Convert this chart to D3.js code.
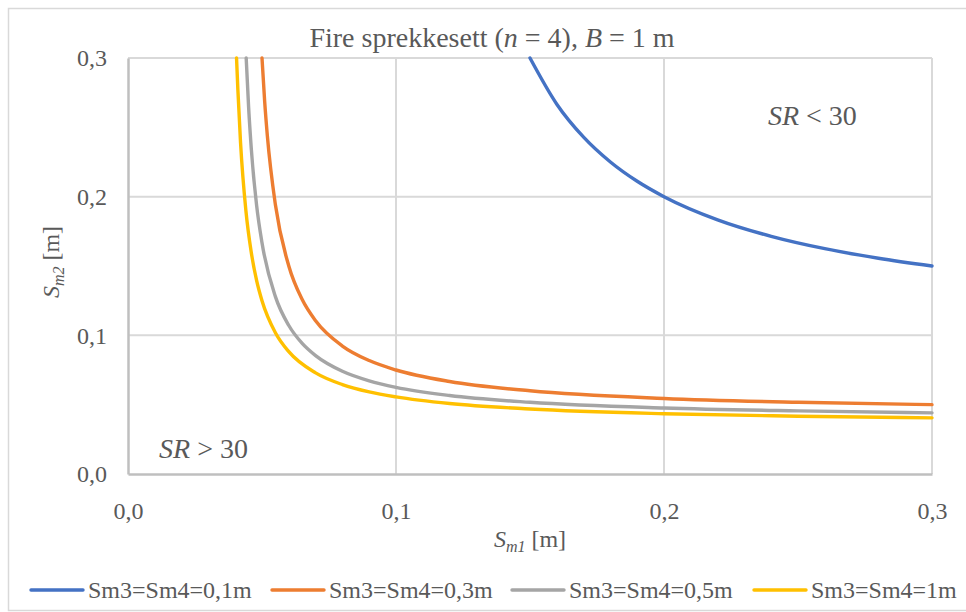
<!DOCTYPE html>
<html>
<head>
<meta charset="utf-8">
<script src="https://cdn.jsdelivr.net/npm/d3@7"></script>
<style>
  html, body { margin: 0; padding: 0; background: #fff; }
  svg { display: block; }
  svg text { font-family: "Liberation Serif", Tinos, "Times New Roman", Times, "DejaVu Serif", serif !important; fill: #595959; }
</style>
</head>
<body>
<svg id="chart" width="966" height="612"></svg>
<script>
// Sm1 / Sm2 combinations where SR = 30, one curve per Sm3 = Sm4 value
const seriesNames = ["Sm3=Sm4=0,1m", "Sm3=Sm4=0,3m", "Sm3=Sm4=0,5m", "Sm3=Sm4=1m"];
const seriesColors = ["#4472C4", "#ED7D31", "#A5A5A5", "#FFC000"];

const sm1_01 = [0.15, 0.16, 0.17, 0.18, 0.19, 0.20, 0.22, 0.24, 0.26, 0.28, 0.30];
const sm2_01 = [0.300, 0.2667, 0.2429, 0.225, 0.2111, 0.200, 0.1833, 0.1714, 0.1625, 0.1556, 0.150];

const sm1_03 = [0.050, 0.051, 0.052, 0.055, 0.060, 0.065, 0.070, 0.080, 0.090, 0.10, 0.12, 0.15, 0.20, 0.25, 0.30];
const sm2_03 = [0.300, 0.2685, 0.2438, 0.1941, 0.150, 0.1258, 0.1105, 0.0923, 0.0818, 0.075, 0.0667, 0.060, 0.0545, 0.0517, 0.050];

const sm1_05 = [0.0441, 0.045, 0.046, 0.048, 0.050, 0.055, 0.060, 0.065, 0.070, 0.080, 0.090, 0.10, 0.12, 0.15, 0.20, 0.25, 0.30];
const sm2_05 = [0.300, 0.2647, 0.2347, 0.1935, 0.1667, 0.1279, 0.1071, 0.0942, 0.0854, 0.0741, 0.0672, 0.0625, 0.0566, 0.0517, 0.0476, 0.0455, 0.0441];

const sm1_1 = [0.0405, 0.041, 0.042, 0.044, 0.046, 0.048, 0.050, 0.055, 0.060, 0.070, 0.080, 0.090, 0.10, 0.12, 0.15, 0.20, 0.25, 0.30];
const sm2_1 = [0.300, 0.277, 0.2387, 0.1897, 0.1597, 0.1395, 0.125, 0.1019, 0.0882, 0.0729, 0.0645, 0.0592, 0.0556, 0.0508, 0.0469, 0.0435, 0.0417, 0.0405];

const xTicks = [0.0, 0.1, 0.2, 0.3];
const yTicks = [0.0, 0.1, 0.2, 0.3];
const tickLabels = ["0,0", "0,1", "0,2", "0,3"];

const seriesX = [sm1_01, sm1_03, sm1_05, sm1_1];
const seriesY = [sm2_01, sm2_03, sm2_05, sm2_1];

const svg = d3.select("#chart");
const plot = { left: 128, right: 932, top: 58, bottom: 474 };

const x = d3.scaleLinear().domain([0, 0.3]).range([plot.left, plot.right]);
const y = d3.scaleLinear().domain([0, 0.3]).range([plot.bottom, plot.top]);

// outer chart frame
svg.append("rect")
  .attr("x", 8.5).attr("y", 8.5)
  .attr("width", 980).attr("height", 602)
  .attr("fill", "#fff").attr("stroke", "#d9d9d9").attr("stroke-width", 1.5);

// title
const title = svg.append("text")
  .attr("x", 492).attr("y", 47)
  .attr("text-anchor", "middle")
  .style("font-size", "28px");
title.append("tspan").text("Fire sprekkesett (");
title.append("tspan").style("font-style", "italic").text("n");
title.append("tspan").text(" = 4), ");
title.append("tspan").style("font-style", "italic").text("B");
title.append("tspan").text(" = 1 m");

// gridlines
const grid = svg.append("g");
grid.selectAll("line.v").data(xTicks.slice(1)).join("line")
  .attr("x1", d => x(d)).attr("x2", d => x(d))
  .attr("y1", plot.top).attr("y2", plot.bottom)
  .attr("stroke", "#d9d9d9").attr("stroke-width", 2);
grid.selectAll("line.h").data(yTicks.slice(1)).join("line")
  .attr("x1", plot.left).attr("x2", plot.right)
  .attr("y1", d => y(d)).attr("y2", d => y(d))
  .attr("stroke", "#d9d9d9").attr("stroke-width", 2);

// axis lines
const xAxis = d3.axisBottom(x).tickValues(xTicks).tickSize(0)
  .tickFormat((d, i) => tickLabels[i]);
const yAxis = d3.axisLeft(y).tickValues(yTicks).tickSize(0)
  .tickFormat((d, i) => tickLabels[i]);

const gx = svg.append("g").attr("transform", `translate(0,${plot.bottom})`).call(xAxis);
gx.attr("font-family", null).attr("font-size", null);
gx.select(".domain").attr("stroke", "#bfbfbf").attr("stroke-width", 2.5);
gx.selectAll(".tick text").attr("dy", 0).attr("y", 45)
  .style("font-size", "24px").attr("fill", "#595959");

const gy = svg.append("g").attr("transform", `translate(${plot.left},0)`).call(yAxis);
gy.attr("font-family", null).attr("font-size", null);
gy.select(".domain").attr("stroke", "#bfbfbf").attr("stroke-width", 2.5);
gy.selectAll(".tick text").attr("x", -21).attr("dy", "0.32em")
  .style("font-size", "24px").attr("fill", "#595959");

// axis titles
const xt = svg.append("text")
  .attr("x", 530).attr("y", 547)
  .attr("text-anchor", "middle")
  .style("font-size", "24px");
xt.append("tspan").style("font-style", "italic").text("S");
xt.append("tspan").style("font-style", "italic").style("font-size", "16px").attr("dy", 5).text("m1");
xt.append("tspan").attr("dy", -5).text(" [m]");

const yt = svg.append("text")
  .attr("transform", "translate(59,262) rotate(-90)")
  .attr("text-anchor", "middle")
  .style("font-size", "24px");
yt.append("tspan").style("font-style", "italic").text("S");
yt.append("tspan").style("font-style", "italic").style("font-size", "16px").attr("dy", 5).text("m2");
yt.append("tspan").attr("dy", -5).text(" [m]");

// curves
const line = d3.line()
  .x(d => x(d[0])).y(d => y(d[1]))
  .curve(d3.curveMonotoneX);

const curves = svg.append("g");
seriesNames.forEach((name, i) => {
  const pts = seriesX[i].map((v, j) => [v, seriesY[i][j]]);
  curves.append("path")
    .datum(pts)
    .attr("d", line)
    .attr("fill", "none")
    .attr("stroke", seriesColors[i])
    .attr("stroke-width", 3.4)
    .attr("stroke-linecap", "round")
    .attr("stroke-linejoin", "round");
});

// region annotations
function annot(px, py, sym) {
  const t = svg.append("text").attr("x", px).attr("y", py).style("font-size", "28px");
  t.append("tspan").style("font-style", "italic").text("SR");
  t.append("tspan").text(" " + sym + " 30");
}
annot(x(0.2388), y(0.252), "<");
annot(x(0.0116), y(0.0115), ">");

// legend
const legendX = [31, 272, 512, 754];
const lg = svg.append("g");
seriesNames.forEach((name, i) => {
  lg.append("line")
    .attr("x1", legendX[i]).attr("x2", legendX[i] + 52)
    .attr("y1", 590).attr("y2", 590)
    .attr("stroke", seriesColors[i]).attr("stroke-width", 3.4)
    .attr("stroke-linecap", "round");
  lg.append("text")
    .attr("x", legendX[i] + 57).attr("y", 598)
    .style("font-size", "24px")
    .text(name);
});
</script>
</body>
</html>
